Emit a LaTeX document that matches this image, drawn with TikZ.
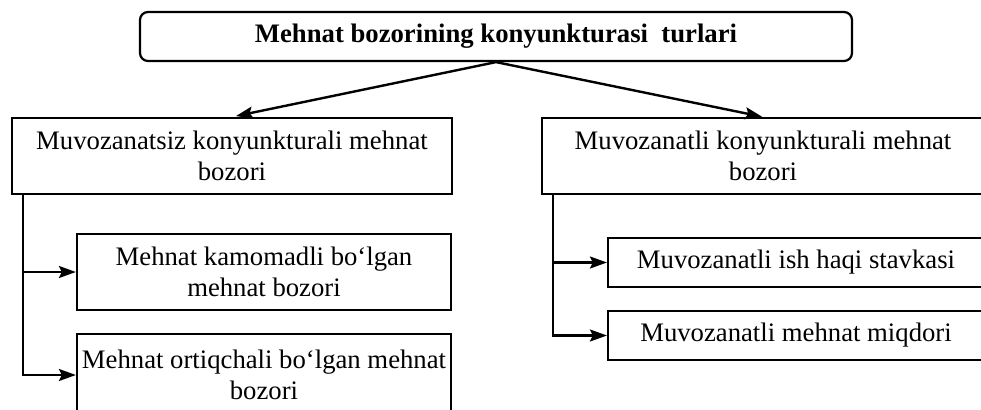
\documentclass[tikz,border=0pt]{standalone}
\usepackage{fontspec}
\setmainfont{Liberation Serif}
\usetikzlibrary{arrows.meta}
\begin{document}
\begin{tikzpicture}[x=1pt,y=-1pt,
  box/.style={draw,line width=2.2pt,align=center,inner sep=0pt,
    font=\fontsize{26.7}{31}\selectfont},
  arr/.style={line width=2.4pt,-{Stealth[length=17pt,width=12pt,inset=3pt]}}]
\useasboundingbox (0,0) rectangle (981,409);
\begin{scope}
\clip (0,0) rectangle (981,409);
\node[box,rounded corners=8pt,minimum width=712pt,minimum height=49pt,
  font=\fontsize{26.7}{31}\selectfont\bfseries] (top) at (496,36.5)
  {Mehnat bozorining konyunkturasi\ \ turlari};
\node[box,minimum width=440pt,minimum height=76pt] (L) at (232,156)
  {Muvozanatsiz konyunkturali mehnat\\bozori};
\node[box,minimum width=442pt,minimum height=76pt] (R) at (763,156)
  {Muvozanatli konyunkturali mehnat\\bozori};
\node[box,minimum width=374pt,minimum height=76pt] (L1) at (264,272)
  {Mehnat kamomadli bo‘lgan\\mehnat bozori};
\node[box,minimum width=374pt,minimum height=82pt] (L2) at (264,375)
  {Mehnat ortiqchali bo‘lgan mehnat\\bozori};
\node[box,minimum width=376pt,minimum height=49pt] (R1) at (796,262.5)
  {Muvozanatli ish haqi stavkasi};
\node[box,minimum width=376pt,minimum height=49pt] (R2) at (796,335.5)
  {Muvozanatli mehnat miqdori};
\end{scope}
\draw[arr,shorten >=4pt] (top.south) -- (L.north);
\draw[arr,shorten >=1pt] (top.south) -- (R.north);
\draw[arr] ([xshift=12pt]L.south west) |- (L1.west);
\draw[arr] ([xshift=12pt]L.south west) |- (L2.west);
\draw[arr] ([xshift=12pt]R.south west) |- (R1.west);
\draw[arr] ([xshift=12pt]R.south west) |- (R2.west);
\end{tikzpicture}
\end{document}
